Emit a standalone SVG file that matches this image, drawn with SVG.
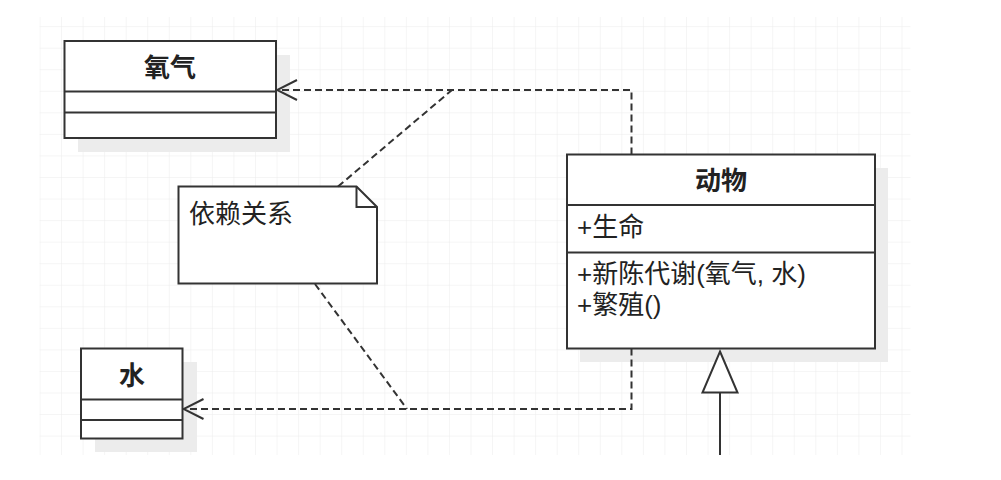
<svg xmlns="http://www.w3.org/2000/svg" width="1001" height="480" viewBox="0 0 1001 480">
<defs>
<pattern id="grid" x="39.5" y="4.6" width="21.55" height="21.55" patternUnits="userSpaceOnUse">
<path d="M0 0 H21.55 M0 0 V21.55" fill="none" stroke="#ebebeb" stroke-width="1"/>
</pattern>
<marker id="open" viewBox="0 0 24 24" markerWidth="24" markerHeight="24" refX="22" refY="12" orient="auto" markerUnits="userSpaceOnUse">
<path d="M2 2 L22 12 L2 22" fill="none" stroke="#333" stroke-width="2"/>
</marker>
</defs>
<style>
.box{fill:#fff;stroke:#333;stroke-width:2}
.shadow{fill:#ececec}
.div{stroke:#333;stroke-width:2}
.t{font-family:"Liberation Sans","Noto Sans CJK SC",sans-serif;font-size:26px;fill:#222}
.b{font-weight:bold}
.dash{fill:none;stroke:#333;stroke-width:2;stroke-dasharray:7 4}
</style>
<rect width="1001" height="480" fill="#fff"/>
<rect x="39.5" y="17" width="871" height="438" fill="url(#grid)"/>

<g id="oxygen">
<rect class="shadow" x="78" y="55" width="212" height="97"/>
<rect class="box" x="64.5" y="41" width="211.5" height="97"/>
<line class="div" x1="64.5" y1="91.5" x2="276" y2="91.5"/>
<line class="div" x1="64.5" y1="112.5" x2="276" y2="112.5"/>
<text class="t b" x="170" y="77" text-anchor="middle">氧气</text>
</g>

<g id="water">
<rect class="shadow" x="95" y="362" width="102" height="90"/>
<rect class="box" x="81" y="348.5" width="101.5" height="90"/>
<line class="div" x1="81" y1="399.5" x2="182.5" y2="399.5"/>
<line class="div" x1="81" y1="420" x2="182.5" y2="420"/>
<text class="t b" x="132" y="385" text-anchor="middle">水</text>
</g>

<g id="note">
<path class="box" d="M178.5 186.5 H356.5 L377 207 V283.5 H178.5 Z"/>
<path d="M356.5 186.5 V207 H377" fill="none" stroke="#333" stroke-width="2"/>
<text class="t" x="189" y="223">依赖关系</text>
</g>

<g id="animal">
<rect class="shadow" x="580" y="168" width="308" height="194"/>
<rect class="box" x="567" y="154.5" width="308" height="194"/>
<line class="div" x1="567" y1="205" x2="875" y2="205"/>
<line class="div" x1="567" y1="252.5" x2="875" y2="252.5"/>
<text class="t b" x="721" y="190" text-anchor="middle">动物</text>
<text class="t" x="577" y="236">+生命</text>
<text class="t" x="577" y="283">+新陈代谢(氧气, 水)</text>
<text class="t" x="577" y="314">+繁殖()</text>
</g>

<g id="connectors">
<path class="dash" d="M631.5 154.5 V90 H277" marker-end="url(#open)"/>
<path class="dash" d="M631.5 348.5 V409 H183.5" marker-end="url(#open)"/>
<path class="dash" d="M338 186.5 L452 90"/>
<path class="dash" d="M315 284 L407 409"/>
<line x1="720" y1="392.5" x2="720" y2="455" stroke="#333" stroke-width="2"/>
<path d="M720 351.5 L737.5 392.5 H702.5 Z" fill="#fff" stroke="#333" stroke-width="2"/>
</g>
</svg>
